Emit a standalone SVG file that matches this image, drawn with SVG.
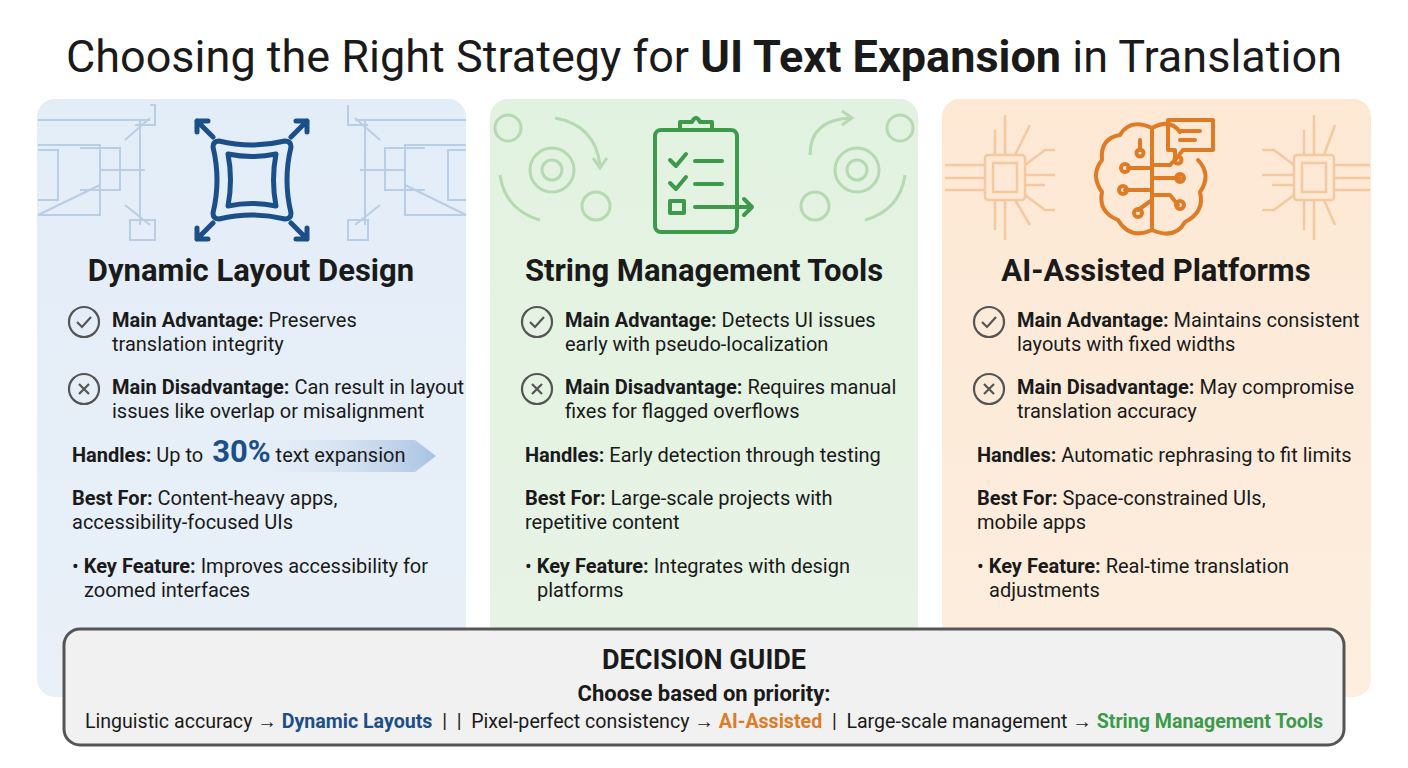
<svg xmlns="http://www.w3.org/2000/svg" width="1408" height="768" viewBox="0 0 1408 768">
<defs>
<linearGradient id="gb" x1="0" y1="0" x2="0" y2="1"><stop offset="0" stop-color="#e3edf8"/><stop offset="1" stop-color="#e9f0f8"/></linearGradient>
<linearGradient id="gg" x1="0" y1="0" x2="0" y2="1"><stop offset="0" stop-color="#e2f2e0"/><stop offset="1" stop-color="#e8f4e6"/></linearGradient>
<linearGradient id="go" x1="0" y1="0" x2="0" y2="1"><stop offset="0" stop-color="#fde8d4"/><stop offset="1" stop-color="#fdeedf"/></linearGradient>
<linearGradient id="arr" x1="0" y1="0" x2="1" y2="0"><stop offset="0" stop-color="#dbe6f3" stop-opacity="0"/><stop offset="1" stop-color="#a9c3e2"/></linearGradient>
<g id="chk"><circle r="15" fill="none" stroke="#555" stroke-width="2.2"/><path d="M-7,0 L-2,5 L7,-5" fill="none" stroke="#555" stroke-width="2.2"/></g>
<g id="xx"><circle r="15" fill="none" stroke="#555" stroke-width="2.2"/><path d="M-5,-5 L5,5 M5,-5 L-5,5" fill="none" stroke="#555" stroke-width="2.2"/></g>
</defs>
<style>
text{font-family:Roboto,"Liberation Sans",sans-serif;fill:#1a1a1a}
.t{font-size:20px}
.b{font-weight:bold}
.h{font-size:31px;font-weight:bold;text-anchor:middle}
</style>
<rect width="1408" height="768" fill="#ffffff"/>
<text x="704" y="72" font-size="45" text-anchor="middle">Choosing the Right Strategy for <tspan font-weight="bold">UI Text Expansion</tspan> in Translation</text>

<g id="panel-dynamic">
<rect x="37" y="99" width="429" height="598" rx="18" fill="url(#gb)"/>
<g fill="none" stroke="#b9cde4" stroke-width="2">
<path d="M38,120 H150 M38,145 H100 V215 H38 M38,150 H58 V200 H38 M80,148 H120 V190 H80 M100,170 H145 M38,215 L100,185 M140,120 V225 M150,105 H155 V125 H135 M125,140 L150,118 M125,205 L150,225 M130,220 H155 V240 H130 Z"/>
<path d="M466,120 H355 M466,145 H405 V215 H466 M466,150 H448 V200 H466 M425,148 H385 V190 H425 M405,170 H360 M466,215 L405,185 M365,120 V225 M348,105 V125 H368 M380,140 L355,118 M380,205 L355,225 M348,220 H368 V240 H348 Z"/>
</g>
<g fill="none" stroke="#1b4f8a" stroke-width="5" stroke-linejoin="round" stroke-linecap="round">
<path d="M219,141 Q252,149 285,141 Q291,141 291,147 Q283,180 291,213 Q291,219 285,219 Q252,211 219,219 Q213,219 213,213 Q221,180 213,147 Q213,141 219,141 Z"/>
<path d="M228,154 Q252,159 276,154 Q271,180 276,206 Q252,201 228,206 Q233,180 228,154 Z"/>
<path d="M213,137 L197,121 M197,132 V121 H208 M291,137 L307,121 M296,121 H307 V132 M213,223 L197,239 M197,228 V239 H208 M291,223 L307,239 M307,228 V239 H296"/>
</g>
<text x="251" y="281" class="h">Dynamic Layout Design</text>
<use href="#chk" x="84" y="322"/>
<text x="112" y="327" class="t"><tspan class="b">Main Advantage:</tspan> Preserves</text>
<text x="112" y="351" class="t">translation integrity</text>
<use href="#xx" x="84" y="389"/>
<text x="112" y="394" class="t"><tspan class="b">Main Disadvantage:</tspan> Can result in layout</text>
<text x="112" y="418" class="t">issues like overlap or misalignment</text>
<path d="M250,440 H415 L436,456 L415,472 H250 Z" fill="url(#arr)"/>
<text x="72" y="462" class="t"><tspan class="b">Handles:</tspan> Up to <tspan font-size="31" font-weight="bold" fill="#1b4f8a" dx="4">30%</tspan> text expansion</text>
<text x="72" y="505" class="t"><tspan class="b">Best For:</tspan> Content-heavy apps,</text>
<text x="72" y="529" class="t">accessibility-focused UIs</text>
<text x="72" y="573" class="t">• <tspan class="b">Key Feature:</tspan> Improves accessibility for</text>
<text x="84" y="597" class="t">zoomed interfaces</text>
</g>

<g id="panel-string">
<rect x="490" y="99" width="428" height="598" rx="18" fill="url(#gg)"/>
<g fill="none" stroke="#b5d9b1" stroke-width="3">
<circle cx="552" cy="170" r="22"/><circle cx="552" cy="170" r="10"/>
<circle cx="508" cy="128" r="13"/><circle cx="596" cy="206" r="14"/>
<path d="M555,118 Q595,125 600,165 M593,158 L600,168 L607,158 M500,175 Q505,210 540,220"/>
<circle cx="857" cy="170" r="22"/><circle cx="857" cy="170" r="10"/>
<circle cx="900" cy="128" r="13"/><circle cx="815" cy="206" r="14"/>
<path d="M810,155 Q810,120 850,118 M842,111 L852,118 L842,125 M905,175 Q900,210 865,220"/>
</g>
<g fill="none" stroke="#3c9a4a" stroke-width="4" stroke-linejoin="round" stroke-linecap="round">
<rect x="655" y="130" width="82" height="102" rx="6"/>
<path d="M680,130 V122 H692 Q696,114 700,122 H712 V130 Z"/>
<path d="M670,160 L676,166 L686,154 M695,161 H722 M670,183 L676,189 L686,177 M695,184 H722 M670,201 H684 V213 H670 Z M695,207 H752 M744,199 L752,207 L744,215"/>
</g>
<text x="704" y="281" class="h">String Management Tools</text>
<use href="#chk" x="537" y="322"/>
<text x="565" y="327" class="t"><tspan class="b">Main Advantage:</tspan> Detects UI issues</text>
<text x="565" y="351" class="t">early with pseudo-localization</text>
<use href="#xx" x="537" y="389"/>
<text x="565" y="394" class="t"><tspan class="b">Main Disadvantage:</tspan> Requires manual</text>
<text x="565" y="418" class="t">fixes for flagged overflows</text>
<text x="525" y="462" class="t"><tspan class="b">Handles:</tspan> Early detection through testing</text>
<text x="525" y="505" class="t"><tspan class="b">Best For:</tspan> Large-scale projects with</text>
<text x="525" y="529" class="t">repetitive content</text>
<text x="525" y="573" class="t">• <tspan class="b">Key Feature:</tspan> Integrates with design</text>
<text x="537" y="597" class="t">platforms</text>
</g>

<g id="panel-ai">
<rect x="942" y="99" width="429" height="598" rx="18" fill="url(#go)"/>
<g fill="none" stroke="#f4c9a0" stroke-width="2.5">
<rect x="985" y="155" width="40" height="45" rx="3"/><rect x="993" y="163" width="24" height="29"/>
<path d="M985,165 H945 M985,178 H945 M985,190 H945 M1025,165 L1045,150 H1055 M1025,175 H1055 M1025,185 H1045 M1025,195 L1045,210 H1055 M995,155 V130 M1005,155 V115 M1015,155 L1030,125 M995,200 V230 M1005,200 V240 M1015,200 L1030,225"/>
<rect x="1294" y="155" width="40" height="45" rx="3"/><rect x="1302" y="163" width="24" height="29"/>
<path d="M1334,165 H1370 M1334,178 H1370 M1334,190 H1370 M1294,165 L1274,150 H1262 M1294,175 H1262 M1294,185 H1272 M1294,195 L1274,210 H1262 M1304,155 V130 M1314,155 V115 M1324,155 L1335,125 M1304,200 V230 M1314,200 V240 M1324,200 L1335,225"/>
</g>
<g fill="none" stroke="#e07b25" stroke-width="4" stroke-linejoin="round" stroke-linecap="round">
<path d="M1152,128 Q1130,118 1120,135 Q1100,138 1102,160 Q1090,175 1102,192 Q1098,212 1118,220 Q1130,240 1152,230 Z"/>
<path d="M1152,128 Q1170,118 1180,132 M1152,230 Q1175,240 1185,222 Q1205,212 1200,192 Q1212,175 1198,160"/>
<path d="M1152,128 V230"/>
<path d="M1168,120 H1213 V150 H1183 L1175,160 V150 H1168 Z"/>
<path d="M1180,131 H1200 M1180,140 H1195"/>
<path d="M1152,168 H1128 M1152,190 H1125 M1152,200 L1138,210 M1152,165 H1170 L1175,160 M1152,178 H1180 M1152,195 H1170 L1178,205 M1140,140 V150"/>
<circle cx="1125" cy="168" r="4"/><circle cx="1123" cy="190" r="4"/><circle cx="1138" cy="213" r="4"/><circle cx="1180" cy="178" r="4"/><circle cx="1180" cy="205" r="4"/><circle cx="1178" cy="160" r="3.5"/><circle cx="1140" cy="153" r="3.5"/>
</g>
<text x="1156" y="281" class="h">AI-Assisted Platforms</text>
<use href="#chk" x="989" y="322"/>
<text x="1017" y="327" class="t"><tspan class="b">Main Advantage:</tspan> Maintains consistent</text>
<text x="1017" y="351" class="t">layouts with fixed widths</text>
<use href="#xx" x="989" y="389"/>
<text x="1017" y="394" class="t"><tspan class="b">Main Disadvantage:</tspan> May compromise</text>
<text x="1017" y="418" class="t">translation accuracy</text>
<text x="977" y="462" class="t"><tspan class="b">Handles:</tspan> Automatic rephrasing to fit limits</text>
<text x="977" y="505" class="t"><tspan class="b">Best For:</tspan> Space-constrained UIs,</text>
<text x="977" y="529" class="t">mobile apps</text>
<text x="977" y="573" class="t">• <tspan class="b">Key Feature:</tspan> Real-time translation</text>
<text x="989" y="597" class="t">adjustments</text>
</g>

<g id="decision-guide">
<rect x="64" y="629" width="1280" height="116" rx="16" fill="#f1f1f1" stroke="#555" stroke-width="3"/>
<text x="704" y="669" font-size="27" font-weight="bold" text-anchor="middle">DECISION GUIDE</text>
<text x="704" y="701" font-size="22" font-weight="bold" text-anchor="middle">Choose based on priority:</text>
<text x="704" y="728" font-size="19.6" text-anchor="middle" xml:space="preserve">Linguistic accuracy → <tspan font-weight="bold" fill="#1b4f8a">Dynamic Layouts</tspan>  |  |  Pixel-perfect consistency → <tspan font-weight="bold" fill="#e07b25">AI-Assisted</tspan>  |  Large-scale management → <tspan font-weight="bold" fill="#3c9a4a">String Management Tools</tspan></text>
</g>
</svg>
